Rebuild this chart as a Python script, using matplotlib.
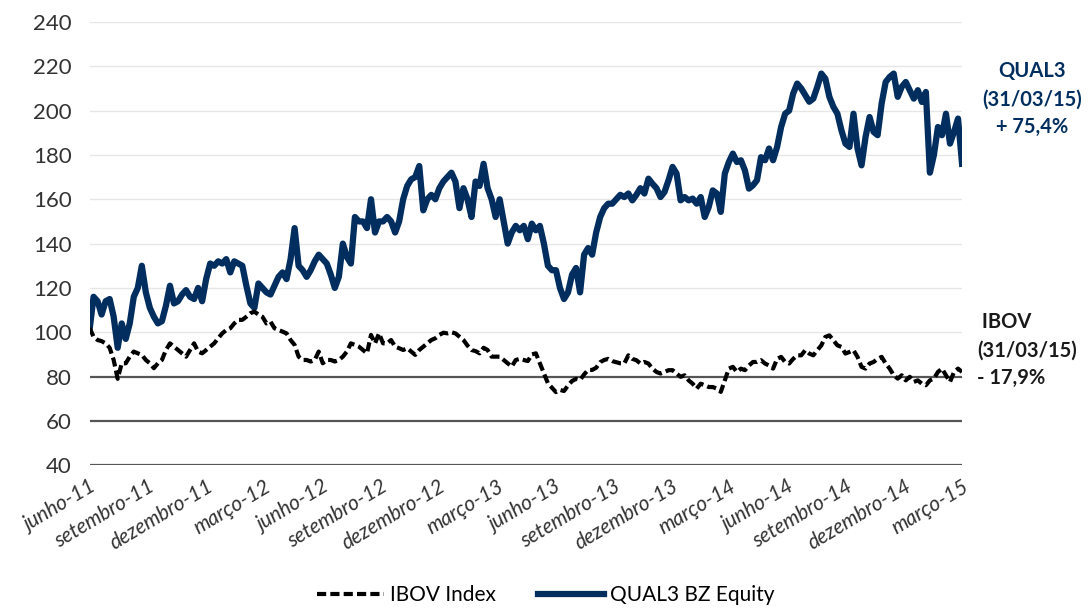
import numpy as np
import pandas as pd
import matplotlib.pyplot as plt

# valores (base 100 em 01/06/2011), ~semanal
qual3 = [101, 116, 114, 108, 114, 115, 107, 93, 104, 97, 104, 116, 120, 130, 118,
         111, 107, 104, 105, 112, 121, 113, 114, 117, 119, 116, 115, 120, 114, 124,
         131, 130, 132, 131, 133, 127, 132, 131, 130, 121, 113, 111, 122, 120, 118,
         117, 121, 125, 127, 124, 133, 147, 130, 128, 125, 128, 132, 135, 133, 131,
         126, 120, 125, 140, 134, 131, 152, 150, 150, 147, 160, 145, 150, 150, 152,
         150, 145, 150, 160, 166, 169, 170, 175, 155, 160, 162, 160, 165, 168,
         170, 172, 168, 156, 165, 160, 152, 168, 166, 176, 165, 160, 152, 160, 150,
         140, 145, 148, 146, 148, 142, 149, 146, 148, 140, 130, 128, 128, 120, 115,
         118, 126, 129, 118, 135, 138, 135, 145, 152, 156, 158, 158, 160, 162,
         161, 162.6, 159.5, 162, 165, 162.6, 169.3, 167, 165, 161, 163.3, 168.6, 174.6, 171.6, 159.5,
         161, 159.5, 160.3, 158, 161, 152, 156.5, 164, 162.6, 154.3, 171.6, 176.8, 180.6, 176.8, 177.6,
         173, 164.8, 166.3, 168.6, 179, 177.6, 182.9, 177.6, 183.6, 192.6, 198.6, 200, 207.7, 212.2,
         210, 207, 204, 205.4, 210.7, 216.7, 214.4, 206.2, 201.7, 198.6, 191.1, 185.1, 183.6, 198.6, 182.9,
         175.3, 188.1, 197.1, 190.4, 188.9, 203.2, 212.9, 215.2, 216.7, 206.2, 210.7, 212.9, 209.2, 205.4, 209.2,
         203.9, 208.4, 172, 180, 192.6, 188.9, 198.6, 185.1, 190.4, 196.4, 176]

ibov = [102, 98, 96.5, 96, 95, 93, 87.5, 79, 86, 86, 89, 91.3, 90.5, 89.8, 87.5,
        86, 83.8, 86, 87.5, 92, 95, 93.5, 92, 90.5, 89, 92, 95, 91.3, 90.5, 92,
        93.5, 95, 97.3, 99.5, 101, 101.8, 104, 105.6, 105.6, 107, 108.6, 109.3, 108, 107, 104,
        104.8, 101.8, 101, 100.3, 99.5, 96.5, 94.3, 89, 87.5, 87.5, 86.8, 87.5, 91.3, 86, 87.5,
        87.5, 86.8, 87.5, 89, 91.3, 95, 94.3, 93.5, 92, 90.5, 98.8, 95, 99.5, 95, 95,
        96.5, 93.5, 92.8, 92, 92.8, 91.3, 89.8, 92, 93.5, 95, 96.5, 97.3, 98.8, 99.8,
        99.5, 100, 99.5, 98, 96.5, 94, 92, 91.5, 90.5, 93, 92, 89, 89, 89, 87.5,
        86, 84.5, 87.5, 88, 87.5, 87, 90, 90.5, 86, 81.5, 77, 75, 73, 74, 73.5,
        76, 78, 79, 78.5, 81, 83, 83, 84, 86.5, 87.5, 88, 87, 86.5, 86,
        85.9, 89.6, 88, 87.4, 85.9, 86.6, 85.9, 83.6, 82.1, 81.4, 82.1, 82.9, 82.9, 81.4, 79.9,
        80.6, 78.3, 76.8, 74.6, 76.8, 76.1, 75.3, 75.3, 74.6, 73.1, 78.3, 83.6, 84.4, 82.1, 83.6,
        82.9, 85, 86.6, 86.6, 87.4, 85.9, 85, 83.6, 88, 88.9, 86.6, 85.9, 88, 89.6,
        89.6, 91.9, 90.4, 89.6, 91.9, 94.1, 97.9, 98.6, 96.4, 94.1, 93.4, 90.4, 91.1, 91.9, 88.9,
        84.4, 83.6, 85.9, 86.6, 88, 88.9, 85.9, 83.6, 80.6, 79.1, 80.6, 78.3, 79.9, 77.6, 78.3,
        76.8, 76.1, 78.3, 79.1, 82.1, 83.6, 80.6, 77.6, 82.1, 83.6, 82.1]

tick_labels = ['junho-11', 'setembro-11', 'dezembro-11', 'março-12', 'junho-12',
               'setembro-12', 'dezembro-12', 'março-13', 'junho-13', 'setembro-13',
               'dezembro-13', 'março-14', 'junho-14', 'setembro-14', 'dezembro-14',
               'março-15']

dates = pd.date_range('2011-06-01', '2015-03-31', periods=len(qual3))
ticks = pd.date_range('2011-06-01', '2015-03-31', periods=len(tick_labels))

plt.rcParams['font.family'] = ['Lato', 'DejaVu Sans']
navy = '#012E5F'

fig = plt.figure(figsize=(10.92, 6.09), dpi=100)
ax = fig.add_axes([0.082, 0.236, 0.799, 0.728])

for v in range(100, 260, 20):
    ax.axhline(v, color='#E6E6E6', lw=1, zorder=0)
for v in [40, 60, 80]:
    ax.axhline(v, color='#555555', lw=1.6, zorder=0)

ax.plot(dates, ibov, color='black', lw=3, ls=(0, (2.2, 1.0)), label='IBOV Index', zorder=3)
ax.plot(dates, qual3, color=navy, lw=4.5, label='QUAL3 BZ Equity', zorder=2)

ax.set_ylim(40, 240)
ax.set_yticks(range(40, 260, 20))
ax.set_xlim(dates[0], dates[-1])
ax.set_xticks(ticks)
ax.set_xticklabels(tick_labels, rotation=31, ha='right', rotation_mode='anchor',
                   fontsize=15, style='italic', color='#333333')
ax.tick_params(axis='y', labelsize=16, colors='#333333', length=0, pad=13)
ax.tick_params(axis='x', length=0, pad=8)
for s in ax.spines.values():
    s.set_visible(False)

fig.text(0.945, 0.837, 'QUAL3\n(31/03/15)\n+ 75,4%', color=navy, fontsize=14.5,
         fontweight='bold', ha='center', va='center', linespacing=1.5)
fig.text(0.895, 0.425, ' IBOV\n(31/03/15)\n- 17,9%', color='#1a1a1a', fontsize=14.5,
         fontweight='bold', ha='left', va='center', linespacing=1.5)

fig.legend(loc='lower center', bbox_to_anchor=(0.5, -0.024), ncol=2, frameon=False,
           fontsize=15, handlelength=3.2, columnspacing=2.0, handletextpad=0.3)

fig.savefig('out.png', dpi=100)
